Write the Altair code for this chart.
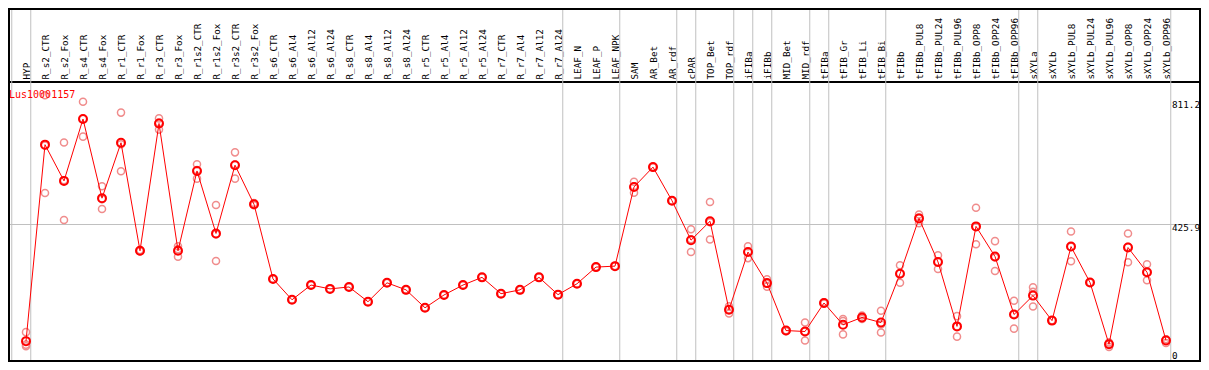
import altair as alt
import pandas as pd

gene = "Lus10001157"

categories = [
    "HYP", "R_s2_CTR", "R_s2_Fox", "R_s4_CTR", "R_s4_Fox", "R_r1_CTR", "R_r1_Fox",
    "R_r3_CTR", "R_r3_Fox", "R_r1s2_CTR", "R_r1s2_Fox", "R_r3s2_CTR", "R_r3s2_Fox",
    "R_s6_CTR", "R_s6_Al4", "R_s6_Al12", "R_s6_Al24", "R_s8_CTR", "R_s8_Al4",
    "R_s8_Al12", "R_s8_Al24", "R_r5_CTR", "R_r5_Al4", "R_r5_Al12", "R_r5_Al24",
    "R_r7_CTR", "R_r7_Al4", "R_r7_Al12", "R_r7_Al24", "LEAF_N", "LEAF_P", "LEAF_NPK",
    "SAM", "AR_Bet", "AR_rdf", "cPAR", "TOP_Bet", "TOP_rdf", "iFIBa", "iFIBb",
    "MID_Bet", "MID_rdf", "tFIBa", "tFIB_Gr", "tFIB_Li", "tFIB_Bi", "tFIBb",
    "tFIBb_PUL8", "tFIBb_PUL24", "tFIBb_PUL96", "tFIBb_OPP8", "tFIBb_OPP24",
    "tFIBb_OPP96", "sXYLa", "sXYLb", "sXYLb_PUL8", "sXYLb_PUL24", "sXYLb_PUL96",
    "sXYLb_OPP8", "sXYLb_OPP24", "sXYLb_OPP96",
]

means = [
    62, 675, 562, 755, 508, 681, 344, 741, 344, 593, 398, 611, 489,
    256, 191, 237, 225, 231, 185, 244, 222, 166, 206, 237, 261, 210, 222, 261, 207,
    241, 293, 296, 543, 605, 500, 377, 436, 160, 340, 243, 95, 92, 181, 113, 136,
    120, 272, 445, 309, 108, 420, 326, 145, 204, 126, 357, 245, 52, 354, 277, 64,
]

rep_a = [
    90, 829, 682, 809, 545, 775, 346, 757, 358, 614, 487, 651, 493,
    256, 191, 237, 225, 231, 185, 244, 222, 166, 206, 237, 261, 210, 222, 261, 207,
    241, 293, 296, 559, 605, 500, 411, 496, 171, 358, 255, 96, 120, 183, 131, 142,
    157, 299, 457, 330, 140, 478, 374, 188, 230, 126, 404, 245, 58, 398, 302, 68,
]

rep_b = [
    51, 524, 440, 700, 474, 592, 342, 722, 325, 569, 312, 569, 486,
    256, 191, 237, 225, 231, 185, 244, 222, 166, 206, 237, 261, 210, 222, 261, 207,
    241, 293, 296, 525, 605, 500, 340, 379, 148, 321, 232, 93, 64, 179, 83, 131,
    89, 244, 430, 287, 76, 364, 281, 101, 216, 126, 311, 245, 44, 308, 252, 56,
]

rep_c = [
    46, 672, 564, 756, 505, 676, 344, 744, 349, 596, 395, 613, 488,
    256, 191, 237, 225, 231, 185, 244, 222, 166, 206, 237, 261, 210, 222, 261, 207,
    241, 293, 296, 545, 605, 500, 380, 433, 161, 341, 242, 95, 92, 181, 125, 135,
    114, 273, 448, 310, 108, 418, 323, 146, 170, 126, 356, 245, 54, 356, 277, 68,
]

# index of the last category of each group (grey separators drawn after them)
group_ends = [-1, 0, 28, 31, 34, 35, 37, 38, 39, 41, 42, 45, 52, 53, 60]

grid_values = [425.9]
axis_top_labels = ["425.9", "811.2"]
axis_top_values = [425.9, 811.2]
axis_bottom_labels = ["0"]
axis_bottom_values = [0]

W, H, TOP = 1193, 280, 74
MONO = "DejaVu Sans Mono"

idx = list(range(len(categories)))
mean_df = pd.DataFrame({"i": idx, "cat": categories, "v": means})
rep_df = pd.DataFrame({"i": idx * 3, "v": rep_a + rep_b + rep_c})
bound_df = pd.DataFrame({"i": [g + 0.25 for g in group_ends]})
grid_df = pd.DataFrame({"v": grid_values})
lab_top_df = pd.DataFrame({"v": axis_top_values, "t": axis_top_labels})
lab_bot_df = pd.DataFrame({"v": axis_bottom_values, "t": axis_bottom_labels})
one = pd.DataFrame({"k": [0]})

xs = alt.Scale(domain=[-0.9474, 61.842], nice=False, zero=False)
ys = alt.Scale(domain=[-3.12, 870.5], nice=False, zero=False)

label_expr = "[" + ",".join("'" + c + "'" for c in categories) + "][datum.value]"

top_axis = alt.Axis(
    orient="top",
    values=idx,
    labelExpr=label_expr,
    labelAngle=-90,
    labelAlign="left",
    labelBaseline="middle",
    labelPadding=3,
    labelFont=MONO,
    labelFontSize=9.3,
    labelColor="black",
    labelOverlap=False,
    labelFlush=False,
    ticks=False,
    domain=False,
    grid=False,
    title=None,
)

x_enc = alt.X("i:Q", scale=xs, axis=top_axis)
y_plain = alt.Y("v:Q", scale=ys, axis=None)

vgrid = alt.Chart(bound_df).mark_rule(color="#c0c0c0", strokeWidth=1).encode(
    x=x_enc,
    y=alt.value(-TOP),
    y2=alt.value(H),
)

hgrid = alt.Chart(grid_df).mark_rule(color="#c0c0c0", strokeWidth=1).encode(
    y=y_plain, x=alt.value(0), x2=alt.value(W)
)

frame = alt.Chart(one).mark_rect(filled=False, stroke="black", strokeWidth=2).encode(
    x=alt.value(1), x2=alt.value(W - 1), y=alt.value(-TOP + 1), y2=alt.value(H - 1)
)

reps = alt.Chart(rep_df).mark_point(
    shape="circle", filled=False, color="#f08c8c", size=50, strokeWidth=1.5, opacity=1
).encode(x=x_enc, y=y_plain)

line = alt.Chart(mean_df).mark_line(color="#ff0000", strokeWidth=1).encode(
    x=x_enc, y=y_plain
)

pts = alt.Chart(mean_df).mark_point(
    shape="circle", filled=False, color="#ff0000", size=64, strokeWidth=2, opacity=1
).encode(x=x_enc, y=y_plain)

lab_top = alt.Chart(lab_top_df).mark_text(
    align="left", baseline="top", font=MONO, fontSize=9.3, color="black"
).encode(x=alt.value(1164), y=y_plain, text="t:N")

lab_bot = alt.Chart(lab_bot_df).mark_text(
    align="left", baseline="bottom", font=MONO, fontSize=9.3, color="black"
).encode(x=alt.value(1164), y=y_plain, text="t:N")

title = alt.Chart(one).mark_text(
    align="left", baseline="top", font=MONO, fontSize=10, color="#ff0000"
).encode(x=alt.value(1), y=alt.value(8), text=alt.value(gene))

chart = (
    alt.layer(vgrid, hgrid, reps, line, pts, lab_top, lab_bot, title, frame)
    .properties(
        width=W,
        height=H,
        autosize=alt.AutoSizeParams(type="none"),
        padding={"left": 0, "right": 0, "top": TOP, "bottom": 0},
        background="white",
    )
    .configure_view(stroke="black", strokeWidth=2)
)

chart.save("out.html", embed_options={"renderer": "svg", "actions": False})
